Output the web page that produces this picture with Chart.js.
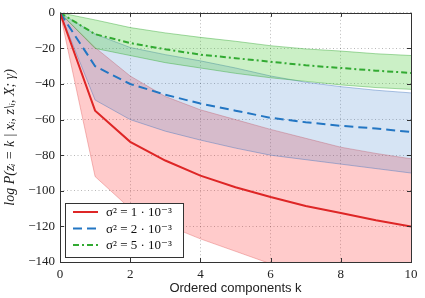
<!DOCTYPE html>
<html>
<head>
<meta charset="utf-8">
<script src="https://cdn.jsdelivr.net/npm/chart.js@4/dist/chart.umd.min.js"></script>
<style>
  html, body { margin: 0; padding: 0; background: #fff; }
</style>
</head>
<body>
<canvas id="myChart" width="425" height="298"></canvas>
<script>
// ordered components k
const ks = [0, 1, 2, 3, 4, 5, 6, 7, 8, 9, 10];

// sigma^2 = 1e-3
const redMean  = [0, -55, -72.5, -83, -91.5, -98, -103.5, -108.5, -112.5, -116.5, -120];
const redUpper = [0, -19.5, -35.5, -47, -54.5, -60, -65.5, -70.5, -75.5, -79, -82];
const redLower = [0, -92, -110, -119, -127, -134, -141, -147, -152, -156, -160];

// sigma^2 = 2e-3
const blueMean  = [0, -30, -40, -46, -51, -55, -59, -61.5, -63.5, -65, -67];
const blueUpper = [0, -12, -19.5, -23.5, -27, -31, -35.5, -39, -41.5, -43.5, -45];
const blueLower = [0, -49, -60, -66.5, -71.5, -76, -80, -82.5, -85, -87.5, -90];

// sigma^2 = 5e-3
const greenMean  = [0, -12, -17, -20.5, -23.5, -25.5, -27.5, -29.5, -31, -32.5, -33.8];
const greenUpper = [0, -4, -8.3, -11.3, -13.8, -16, -18.5, -20.3, -21.5, -23, -24];
const greenLower = [0, -20, -24, -28, -31, -34, -36.5, -38.5, -40.5, -42, -43];

const seriesLabels = ['σ² = 1 · 10⁻³', 'σ² = 2 · 10⁻³', 'σ² = 5 · 10⁻³'];
const yTicks = [0, -20, -40, -60, -80, -100, -120, -140];

function pts(arr) {
  return arr.map((v, i) => ({ x: ks[i], y: v }));
}

function band(upper, lower, edge, fillCol, ord) {
  return [
    { data: pts(upper), borderColor: edge, borderWidth: 1, pointRadius: 0, fill: false, order: ord, band: true },
    { data: pts(lower), borderColor: edge, borderWidth: 1, pointRadius: 0, fill: '-1', backgroundColor: fillCol, order: ord, band: true }
  ];
}

const serif = "'Liberation Serif', 'DejaVu Serif', serif";

// legend drawn inside the plot, bottom-left
const boxLegend = {
  id: 'boxLegend',
  afterDatasetsDraw(chart) {
    const ctx = chart.ctx;
    const a = chart.chartArea;
    const lines = chart.data.datasets.filter(d => !d.band);
    const x0 = a.left + 5, w = 118, h = 54;
    const y0 = a.bottom - 5 - h;
    ctx.save();
    ctx.fillStyle = '#fff';
    ctx.fillRect(x0, y0, w, h);
    ctx.strokeStyle = '#333';
    ctx.lineWidth = 1;
    ctx.strokeRect(x0 + 0.5, y0 + 0.5, w, h);
    lines.forEach((d, i) => {
      const y = y0 + 9 + i * 16.5;
      ctx.beginPath();
      ctx.setLineDash(d.borderDash || []);
      ctx.strokeStyle = d.borderColor;
      ctx.lineWidth = d.borderWidth;
      ctx.moveTo(x0 + 8, y);
      ctx.lineTo(x0 + 33, y);
      ctx.stroke();
      ctx.setLineDash([]);
      ctx.fillStyle = '#111';
      ctx.font = '13px ' + serif;
      ctx.textBaseline = 'middle';
      ctx.fillText(d.label, x0 + 41, y + 1);
    });
    ctx.restore();
  }
};

// full frame with inward ticks
const frame = {
  id: 'frame',
  afterDraw(chart) {
    const ctx = chart.ctx;
    const a = chart.chartArea;
    ctx.save();
    ctx.strokeStyle = '#333';
    ctx.lineWidth = 1;
    ctx.strokeRect(Math.round(a.left) + 0.5, Math.round(a.top) + 0.5, Math.round(a.right - a.left), Math.round(a.bottom - a.top));
    ctx.beginPath();
    chart.scales.x.ticks.forEach(t => {
      const px = Math.round(chart.scales.x.getPixelForValue(t.value)) + 0.5;
      ctx.moveTo(px, a.bottom); ctx.lineTo(px, a.bottom - 4);
      ctx.moveTo(px, a.top); ctx.lineTo(px, a.top + 4);
    });
    chart.scales.y.ticks.forEach(t => {
      const py = Math.round(chart.scales.y.getPixelForValue(t.value)) + 0.5;
      ctx.moveTo(a.left, py); ctx.lineTo(a.left + 4, py);
      ctx.moveTo(a.right, py); ctx.lineTo(a.right - 4, py);
    });
    ctx.stroke();
    ctx.restore();
  }
};

const ctx = document.getElementById('myChart');

new Chart(ctx, {
  type: 'line',
  data: {
    datasets: [
      { label: seriesLabels[0], data: pts(redMean), borderColor: 'rgb(222,38,38)', borderWidth: 2, pointRadius: 0, fill: false, order: 0 },
      { label: seriesLabels[1], data: pts(blueMean), borderColor: 'rgb(35,118,195)', borderWidth: 2, borderDash: [9, 5], pointRadius: 0, fill: false, order: 0 },
      { label: seriesLabels[2], data: pts(greenMean), borderColor: 'rgb(50,170,50)', borderWidth: 2, borderDash: [6, 3, 2, 3], pointRadius: 0, fill: false, order: 0 },
      ...band(greenUpper, greenLower, 'rgba(60,170,60,0.45)', 'rgba(70,200,50,0.28)', 1),
      ...band(blueUpper, blueLower, 'rgba(70,120,190,0.45)', 'rgba(50,120,200,0.2)', 2),
      ...band(redUpper, redLower, 'rgba(220,70,70,0.35)', 'rgba(255,20,20,0.22)', 3)
    ]
  },
  options: {
    responsive: false,
    animation: false,
    layout: { padding: { top: 8, right: 14, left: 0, bottom: 0 } },
    plugins: {
      legend: { display: false },
      tooltip: { enabled: false }
    },
    scales: {
      x: {
        type: 'linear',
        min: 0,
        max: 10,
        afterFit(s) { s.height = 36; },
        ticks: { stepSize: 2, padding: 5, color: '#222', font: { family: serif, size: 13 } },
        grid: { color: 'rgba(0,0,0,0.28)', drawTicks: false },
        border: { display: false, dash: [1, 2.5] },
        title: { display: true, text: 'Ordered components k', color: '#222', padding: { top: 0, bottom: 2 },
                 font: { family: "'Liberation Sans', 'DejaVu Sans', sans-serif", size: 13 } }
      },
      y: {
        min: -140,
        max: 0,
        afterFit(s) { s.width = 60; },
        afterBuildTicks(s) { s.ticks = yTicks.map(v => ({ value: v })); },
        ticks: { padding: 5, color: '#222', font: { family: serif, size: 13 },
                 callback: v => String(v).replace('-', '−') },
        grid: { color: 'rgba(0,0,0,0.28)', drawTicks: false },
        border: { display: false, dash: [1, 2.5] },
        title: { display: true, text: 'log P(zᵢ = k | xᵢ, z\\ᵢ, X; γ)', color: '#222', padding: { top: 2, bottom: 0 },
                 font: { family: serif, size: 14, style: 'italic' } }
      }
    }
  },
  plugins: [boxLegend, frame]
});
</script>
</body>
</html>
